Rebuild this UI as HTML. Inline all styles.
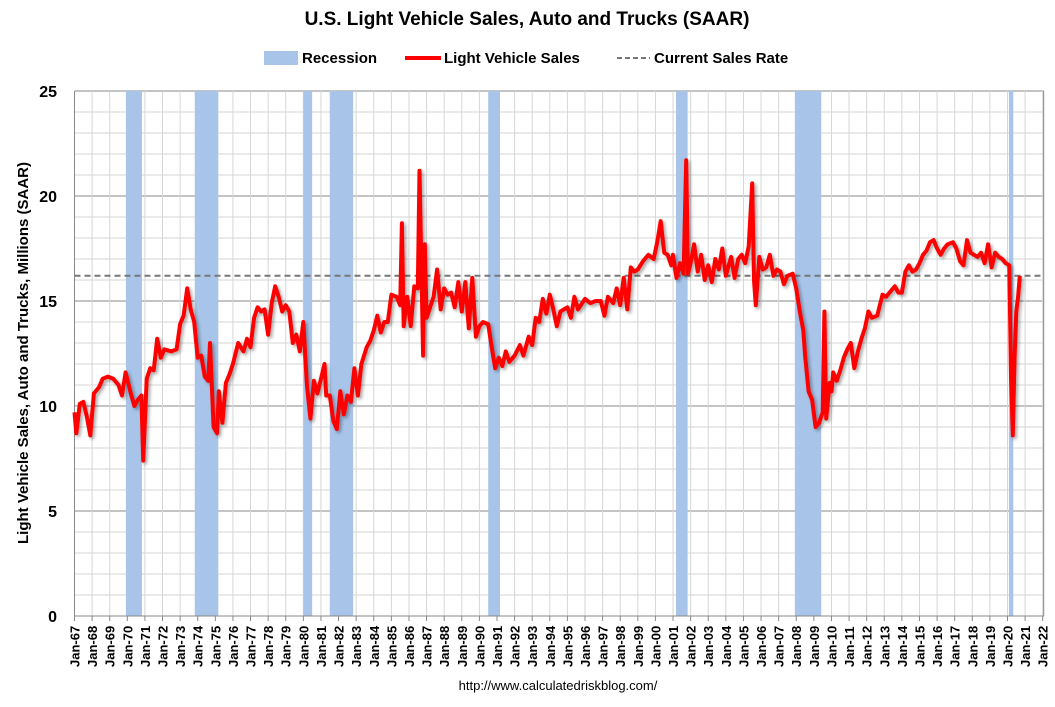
<!DOCTYPE html>
<html><head><meta charset="utf-8"><style>
body{margin:0;background:#fff;font-family:"Liberation Sans",sans-serif}
svg{display:block}
</style></head><body>
<svg id="chart" width="1055" height="707" viewBox="0 0 1055 707">
<defs><filter id="sh" x="-5%" y="-5%" width="110%" height="110%"><feDropShadow dx="2" dy="2" stdDeviation="1.5" flood-color="#000" flood-opacity="0.35"/></filter></defs>
<text x="527" y="25" text-anchor="middle" font-size="19" font-weight="bold" fill="#000">U.S. Light Vehicle Sales, Auto and Trucks (SAAR)</text>
<g font-size="15" font-weight="bold">
<g><rect x="264" y="51" width="34" height="14" fill="#a9c4e9"/><text x="302" y="63">Recession</text></g>
<g><line x1="405" y1="58" x2="441" y2="58" stroke="#f00" stroke-width="4"/><text x="444" y="63">Light Vehicle Sales</text></g>
<g><line x1="617" y1="58" x2="650" y2="58" stroke="#777" stroke-width="2" stroke-dasharray="5,3"/><text x="654" y="63">Current Sales Rate</text></g>
</g>
<g id="grid"></g><g id="rec"></g><g id="axes"></g><g id="series"></g>
<text transform="translate(28,353) rotate(-90)" text-anchor="middle" font-size="15" font-weight="bold">Light Vehicle Sales, Auto and Trucks, Millions (SAAR)</text>
<text x="558" y="690" text-anchor="middle" font-size="13">http://www.calculatedriskblog.com/</text>
</svg>
<script>
const yTicks=[0,5,10,15,20,25];
const currentRate=16.2;
const recStart=[1969.92,1973.83,1980.0,1981.5,1990.5,2001.17,2007.92,2020.08];
const recEnd=[1970.83,1975.17,1980.5,1982.83,1991.17,2001.83,2009.42,2020.33];
const dates=[1967.0,1967.1,1967.3,1967.5,1967.7,1967.9,1968.1,1968.4,1968.6,1968.9,1969.2,1969.5,1969.7,1969.9,1970.2,1970.4,1970.6,1970.8,1970.9,1971.1,1971.3,1971.5,1971.7,1971.9,1972.1,1972.5,1972.8,1973.0,1973.2,1973.4,1973.6,1973.8,1974.0,1974.2,1974.4,1974.6,1974.7,1974.9,1975.1,1975.2,1975.4,1975.6,1975.8,1976.0,1976.3,1976.6,1976.8,1977.0,1977.2,1977.4,1977.6,1977.8,1978.0,1978.2,1978.4,1978.6,1978.8,1979.0,1979.2,1979.4,1979.6,1979.8,1980.0,1980.2,1980.4,1980.6,1980.8,1981.0,1981.2,1981.3,1981.5,1981.7,1981.9,1982.1,1982.3,1982.5,1982.7,1982.9,1983.1,1983.3,1983.6,1983.8,1984.0,1984.2,1984.4,1984.6,1984.8,1985.0,1985.3,1985.5,1985.6,1985.7,1985.9,1986.1,1986.3,1986.5,1986.6,1986.8,1986.9,1987.0,1987.2,1987.4,1987.6,1987.8,1988.0,1988.2,1988.4,1988.6,1988.8,1989.0,1989.2,1989.4,1989.6,1989.8,1990.0,1990.2,1990.5,1990.7,1990.9,1991.1,1991.3,1991.5,1991.7,1992.0,1992.3,1992.5,1992.8,1993.0,1993.2,1993.4,1993.6,1993.8,1994.0,1994.2,1994.4,1994.6,1995.0,1995.2,1995.4,1995.6,1996.0,1996.3,1996.6,1996.9,1997.1,1997.3,1997.6,1997.8,1998.0,1998.2,1998.4,1998.6,1998.8,1999.0,1999.3,1999.6,1999.9,2000.1,2000.3,2000.5,2000.7,2000.9,2001.0,2001.2,2001.4,2001.6,2001.75,2001.85,2002.0,2002.2,2002.4,2002.6,2002.8,2003.0,2003.2,2003.4,2003.6,2003.8,2004.0,2004.3,2004.5,2004.7,2004.9,2005.1,2005.3,2005.5,2005.6,2005.7,2005.9,2006.1,2006.3,2006.5,2006.7,2006.9,2007.1,2007.3,2007.5,2007.8,2008.0,2008.2,2008.4,2008.5,2008.7,2008.9,2009.1,2009.3,2009.5,2009.6,2009.7,2009.9,2010.0,2010.1,2010.3,2010.5,2010.7,2010.9,2011.1,2011.3,2011.5,2011.7,2011.9,2012.1,2012.3,2012.6,2012.9,2013.1,2013.4,2013.6,2013.8,2014.0,2014.2,2014.4,2014.6,2014.8,2015.0,2015.2,2015.4,2015.6,2015.8,2016.0,2016.2,2016.4,2016.6,2016.9,2017.1,2017.3,2017.5,2017.7,2017.9,2018.1,2018.3,2018.5,2018.7,2018.9,2019.1,2019.3,2019.5,2019.7,2019.9,2020.1,2020.2,2020.3,2020.4,2020.5,2020.6,2020.7];
const sales=[9.7,8.7,10.1,10.2,9.5,8.6,10.6,10.9,11.3,11.4,11.3,11.0,10.5,11.6,10.6,10.0,10.3,10.5,7.4,11.3,11.8,11.7,13.2,12.3,12.7,12.6,12.7,13.9,14.3,15.6,14.6,14.0,12.3,12.4,11.4,11.2,13.0,9.0,8.7,10.7,9.2,11.1,11.5,12.0,13.0,12.6,13.2,12.8,14.2,14.7,14.5,14.6,13.4,14.9,15.7,15.2,14.5,14.8,14.5,13.0,13.4,12.6,14.0,11.0,9.4,11.2,10.6,11.3,12.0,10.5,10.5,9.3,8.9,10.7,9.6,10.5,10.2,11.8,10.5,12.0,12.8,13.1,13.6,14.3,13.5,14.0,14.0,15.3,15.2,14.8,18.7,13.8,15.2,13.8,15.7,15.6,21.2,12.4,17.7,14.2,14.7,15.2,16.5,14.6,15.6,15.3,15.4,14.7,15.9,14.5,15.9,13.7,16.1,13.3,13.8,14.0,13.9,12.8,11.8,12.3,11.9,12.6,12.1,12.4,12.9,12.4,13.3,12.9,14.2,14.0,15.1,14.4,15.3,14.6,13.8,14.5,14.7,14.2,15.2,14.6,15.1,14.9,15.0,15.0,14.3,15.2,14.9,15.6,14.8,16.1,14.6,16.6,16.4,16.5,16.9,17.2,17.0,17.8,18.8,17.3,17.2,16.7,17.2,16.1,16.8,16.3,21.7,16.3,16.8,17.7,16.4,17.2,16.0,16.7,15.9,17.0,16.5,17.5,16.2,17.1,16.1,17.0,17.2,16.8,17.6,20.6,16.0,14.8,17.1,16.5,16.6,17.2,16.2,16.5,16.4,15.8,16.2,16.3,15.6,14.5,13.6,12.4,10.7,10.3,9.0,9.2,9.7,14.5,9.4,11.1,10.7,11.6,11.2,11.7,12.3,12.7,13.0,11.8,12.6,13.2,13.7,14.5,14.2,14.3,15.3,15.2,15.5,15.7,15.4,15.4,16.4,16.7,16.4,16.5,16.8,17.2,17.4,17.8,17.9,17.5,17.2,17.5,17.7,17.8,17.5,16.9,16.7,17.9,17.3,17.2,17.1,17.3,16.8,17.7,16.6,17.3,17.1,17.0,16.8,16.7,11.4,8.6,12.2,14.5,15.2,16.2];
const NS='http://www.w3.org/2000/svg';
const X0=74.5,X1=1042.7,T0=1967,T1=2022,YB=616,YT=91,VMAX=25;
function xs(t){return X0+(t-T0)*(X1-X0)/(T1-T0);}
function ys(v){return YB-v*(YB-YT)/VMAX;}
function mk(tag,attrs,parent){const e=document.createElementNS(NS,tag);for(const k in attrs)e.setAttribute(k,attrs[k]);parent.appendChild(e);return e;}
const grid=document.getElementById('grid'),rec=document.getElementById('rec'),axes=document.getElementById('axes'),ser=document.getElementById('series');
for(let v=0;v<=VMAX;v++){
  const l=mk('line',{x1:X0,x2:X1+1,y1:ys(v),y2:ys(v),stroke:v%5===0?'#888':'#d6d6d6','stroke-width':1},grid);
  
  
}
for(let y=T0;y<=T1;y++){
  const l=mk('line',{x1:xs(y),x2:xs(y),y1:YT,y2:YB,stroke:'#d6d6d6','stroke-width':1},grid);
  
  
}
for(let i=0;i<recStart.length;i++){
  const r=mk('rect',{x:xs(recStart[i]),y:YT,width:xs(recEnd[i])-xs(recStart[i]),height:YB-YT,fill:'#a9c4e9'},rec);
  
  
}
const ax=mk('path',{d:`M${X0},${YT}V${YB}H${X1+1}V${YT}`,stroke:'#888',fill:'none','stroke-width':1},axes);


yTicks.forEach(v=>{
  const t=mk('text',{x:57,y:ys(v)+6,'text-anchor':'end','font-size':16,'font-weight':'bold'},axes);t.textContent=v;
  
  
});
for(let y=T0;y<=T1;y++){
  mk('line',{x1:xs(y),x2:xs(y),y1:YB,y2:YB+5,stroke:'#888'},axes);
  const t=mk('text',{transform:`translate(${xs(y)+5},${YB+51}) rotate(-90)`,'font-size':13,'font-weight':'bold'},axes);
  t.textContent='Jan-'+String(y%100).padStart(2,'0');
  
  
}
const cr=mk('line',{x1:X0,x2:X1,y1:ys(currentRate),y2:ys(currentRate),stroke:'#777','stroke-width':2,'stroke-dasharray':'6,4'},ser);


const pts=dates.map((d,i)=>xs(d).toFixed(1)+','+ys(sales[i]).toFixed(1)).join(' ');
const pl=mk('polyline',{points:pts,fill:'none',stroke:'#f00','stroke-width':4,'stroke-linejoin':'round',filter:'url(#sh)'},ser);


</script>
</body></html>
